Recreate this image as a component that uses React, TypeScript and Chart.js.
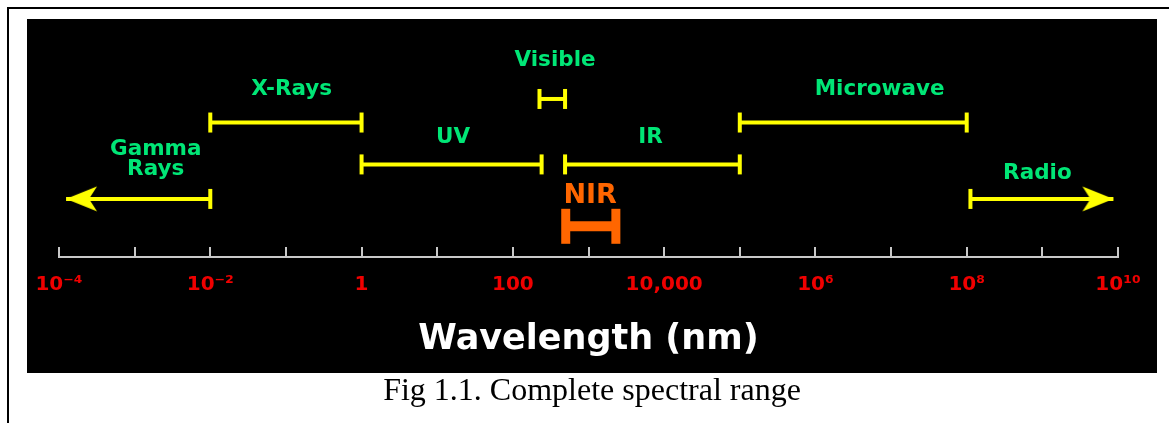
import React, { useEffect, useRef } from 'react';
import { Chart, registerables } from 'chart.js';

Chart.register(...registerables);

// ---- data ----
const tickValues = [1e-4, 1e-3, 1e-2, 1e-1, 1, 10, 100, 1e3, 1e4, 1e5, 1e6, 1e7, 1e8, 1e9, 1e10];
const tickLabels = ['10⁻⁴', '', '10⁻²', '', '1', '', '100', '', '10,000', '', '10⁶', '', '10⁸', '', '10¹⁰'];

const bandLabels = [['Gamma', 'Rays'], ['X-Rays'], ['UV'], ['Visible'], ['IR'], ['Microwave'], ['Radio']];
const bandStart = [1.24e-4, 0.01, 1, 225, 490, 1e5, 1.12e8];
const bandEnd = [0.01, 1, 240, 490, 1e5, 1e8, 8.7e9];
const bandLevel = [24.4, 56.5, 38.9, 66.4, 38.9, 56.5, 24.4];
const bandStartMark = ['arrow', 'cap', 'cap', 'cap', 'cap', 'cap', 'cap'];
const bandEndMark = ['cap', 'cap', 'cap', 'cap', 'cap', 'cap', 'arrow'];
const labelWave = [1.9e-3, 0.119, 16.2, 361, 6600, 7.05e6, 8.6e8];
const labelLevel = [41.2, 70.3, 50.4, 82.6, 50.4, 70.3, 35.3];

const nirLabel = 'NIR';
const nirRange = [500, 2300];
const nirLevel = 12.9;
const nirLabelWave = 1050;
const nirLabelLevel = 25.6;

const axisTitle = 'Wavelength (nm)';
const caption = 'Fig 1.1. Complete spectral range';

// ---- styles ----
const YELLOW = '#ffff00';
const GREEN = '#00e676';
const ORANGE = '#ff6600';
const RED = '#f00000';
const AXIS = '#c8c8c8';

function makeArrow(): HTMLCanvasElement {
  const c = document.createElement('canvas');
  c.width = 64;
  c.height = 28;
  const g = c.getContext('2d')!;
  g.fillStyle = YELLOW;
  g.beginPath();
  g.moveTo(32, 14);
  g.lineTo(1, 1.5);
  g.lineTo(9, 14);
  g.lineTo(1, 26.5);
  g.closePath();
  g.fill();
  return c;
}

const labelPlugin = {
  id: 'bandLabels',
  afterDatasetsDraw(chart: any) {
    const { ctx, scales } = chart;
    const x = scales.x;
    const y = scales.y;
    ctx.save();
    ctx.textAlign = 'center';
    ctx.textBaseline = 'middle';
    ctx.fillStyle = GREEN;
    ctx.font = 'bold 21.5px "DejaVu Sans"';
    bandLabels.forEach((lines, i) => {
      const px = x.getPixelForValue(labelWave[i]);
      const py = y.getPixelForValue(labelLevel[i]);
      const lh = 20;
      lines.forEach((t, j) => {
        ctx.fillText(t, px, py + (j - (lines.length - 1) / 2) * lh);
      });
    });
    ctx.fillStyle = ORANGE;
    ctx.font = 'bold 27px "DejaVu Sans"';
    ctx.fillText(nirLabel, x.getPixelForValue(nirLabelWave), y.getPixelForValue(nirLabelLevel));
    ctx.restore();
  },
};

export default function App() {
  const ref = useRef<HTMLCanvasElement | null>(null);

  useEffect(() => {
    document.body.style.overflow = 'hidden';
    const arrow = makeArrow();
    const datasets: any[] = bandStart.map((s, i) => ({
      type: 'line',
      label: bandLabels[i].join(' '),
      data: [
        { x: s, y: bandLevel[i] },
        { x: bandEnd[i], y: bandLevel[i] },
      ],
      borderColor: YELLOW,
      borderWidth: 4,
      tension: 0,
      clip: false,
      pointStyle: [
        bandStartMark[i] === 'arrow' ? arrow : 'line',
        bandEndMark[i] === 'arrow' ? arrow : 'line',
      ],
      rotation: [bandStartMark[i] === 'arrow' ? 180 : 90, bandEndMark[i] === 'arrow' ? 0 : 90],
      pointRadius: 10,
      pointBorderWidth: 4,
      pointBorderColor: YELLOW,
      pointBackgroundColor: YELLOW,
    }));
    datasets.push({
      type: 'line',
      label: nirLabel,
      data: [
        { x: nirRange[0], y: nirLevel },
        { x: nirRange[1], y: nirLevel },
      ],
      borderColor: ORANGE,
      borderWidth: 10,
      tension: 0,
      clip: false,
      pointStyle: 'line',
      rotation: 90,
      pointRadius: 17.5,
      pointBorderWidth: 9,
      pointBorderColor: ORANGE,
      pointBackgroundColor: ORANGE,
    });

    const chart = new Chart(ref.current!, {
      type: 'line',
      data: { datasets },
      options: {
        animation: false,
        responsive: true,
        maintainAspectRatio: false,
        events: [],
        layout: { autoPadding: false, padding: { left: 32, right: 39, top: 0, bottom: 0 } },
        plugins: {
          legend: { display: false },
          tooltip: { enabled: false },
        },
        scales: {
          x: {
            type: 'logarithmic',
            min: 1e-4,
            max: 1e10,
            afterBuildTicks: (scale: any) => {
              scale.ticks = tickValues.map((v) => ({ value: v }));
            },
            afterFit: (scale: any) => {
              scale.height = 116;
              scale.paddingLeft = 0;
              scale.paddingRight = 0;
            },
            ticks: {
              autoSkip: false,
              maxRotation: 0,
              minRotation: 0,
              padding: 26,
              color: RED,
              font: { family: 'DejaVu Sans', weight: 'bold', size: 20, lineHeight: 1.2 },
              callback: (_v: any, i: number) => tickLabels[i],
            },
            grid: {
              drawOnChartArea: false,
              drawTicks: true,
              tickLength: -10,
              color: AXIS,
              lineWidth: 2,
            },
            border: { display: true, color: AXIS, width: 2 },
            title: {
              display: true,
              text: axisTitle,
              color: '#ffffff',
              font: { family: 'DejaVu Sans', weight: 'bold', size: 35, lineHeight: 1 },
              padding: { top: 0, bottom: 16 },
            },
          },
          y: {
            type: 'linear',
            display: false,
            min: 0,
            max: 100,
          },
        },
      },
      plugins: [labelPlugin],
    } as any);
    return () => chart.destroy();
  }, []);

  return (
    <div>
      <div
        style={{
          position: 'absolute',
          left: 7,
          top: 7,
          width: 1162,
          height: 416,
          borderTop: '2px solid #000',
          borderLeft: '2px solid #000',
          boxSizing: 'border-box',
        }}
      />
      <div
        style={{
          position: 'absolute',
          left: 27,
          top: 19,
          width: 1130,
          height: 354,
          background: '#000',
        }}
      >
        <canvas ref={ref} />
      </div>
      <div
        style={{
          position: 'absolute',
          left: 292,
          top: 373,
          width: 600,
          textAlign: 'center',
          fontFamily: '"Liberation Serif", "Times New Roman", serif',
          fontSize: 32,
          lineHeight: '32px',
          color: '#000',
          whiteSpace: 'nowrap',
        }}
      >
        {caption}
      </div>
    </div>
  );
}
